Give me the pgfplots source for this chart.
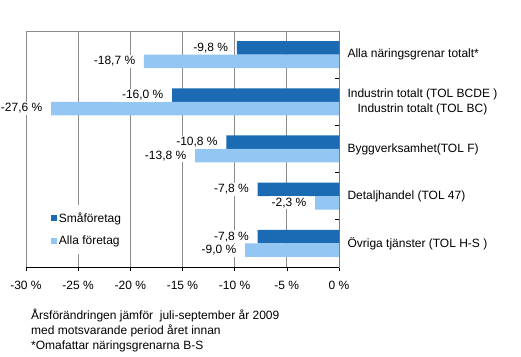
\documentclass[border=0pt]{standalone}
\usepackage{pgfplots}
\pgfplotsset{compat=1.18}
\usepackage{fontspec}
\setmainfont{Liberation Sans}
\definecolor{darkb}{HTML}{1A6AB4}
\definecolor{lightb}{HTML}{93C6F2}
\definecolor{gridg}{HTML}{8C8C8C}
\newcommand\cf{\fontsize{12bp}{15bp}\selectfont}
\begin{document}
\begin{tikzpicture}
\useasboundingbox (0,0) rectangle (521bp,357bp);
\begin{axis}[
  at={(26bp,90bp)}, anchor=south west,
  scale only axis, width=313bp, height=236bp,
  xbar, bar width=13.5bp,
  xmin=-30, xmax=0, ymin=-0.5, ymax=4.5,
  xtick={-30,-25,-20,-15,-10,-5,0},
  xticklabels={-30 \%,-25 \%,-20 \%,-15 \%,-10 \%,-5 \%,0 \%},
  xtick pos=bottom, xtick align=outside,
  ytick={0.5,1.5,2.5,3.5}, yticklabels={,,,},
  ytick pos=right, ytick align=inside,
  major tick length=4bp,
  tick style={black, line width=0.6bp},
  extra y ticks={0,1,2,3,4},
  extra y tick labels={Övriga tjänster (TOL H-S ),Detaljhandel (TOL 47),Byggverksamhet(TOL F),{Industrin totalt (TOL BCDE )\\Industrin totalt (TOL BC)},Alla näringsgrenar totalt*},
  extra y tick style={major tick length=0pt, grid=none},
  yticklabel style={font=\cf, align=center, anchor=west, xshift=5bp},
  xticklabel style={font=\cf, yshift=-7bp},
  xmajorgrids, major grid style={gridg, line width=0.8bp},
  axis line style={gridg, line width=0.8bp},
  point meta=x,
  nodes near coords={\pgfmathprintnumber[fixed,fixed zerofill,precision=1,use comma,assume math mode=true]{\pgfplotspointmeta}~\%},
  every node near coord/.append style={anchor=east, fill=white, inner sep=1.5bp, xshift=-7bp, font=\cf, text=black},
  legend style={at={(rel axis cs:0.06,0.265)}, anchor=north west, draw=none, fill=white, font=\cf, row sep=8bp, inner xsep=6bp, inner ysep=6bp, legend cell align=left},
]
\addplot[fill=darkb, draw=none, bar shift=6.75bp,
  legend image code/.code={\fill[darkb] (0bp,-3bp) rectangle (6bp,3bp);}]
  coordinates {(-9.8,4) (-16.0,3) (-10.8,2) (-7.8,1) (-7.8,0)};
\addlegendentry{Småföretag}
\addplot[fill=lightb, draw=none, bar shift=-6.75bp,
  legend image code/.code={\fill[lightb] (0bp,-3bp) rectangle (6bp,3bp);}]
  coordinates {(-18.7,4) (-27.6,3) (-13.8,2) (-2.3,1) (-9.0,0)};
\addlegendentry{Alla företag}
\draw[black, line width=0.8bp] (rel axis cs:1,0) -- (rel axis cs:1,1);
\draw[black, line width=0.8bp] (rel axis cs:0,0) -- (rel axis cs:1,0);
\end{axis}
\node[anchor=north west, align=left, font=\cf, inner sep=0pt] at (31bp,48bp)
  {Årsförändringen jämför \ juli-september år 2009\\med motsvarande period året innan\\*Omafattar näringsgrenarna B-S};
\end{tikzpicture}
\end{document}
